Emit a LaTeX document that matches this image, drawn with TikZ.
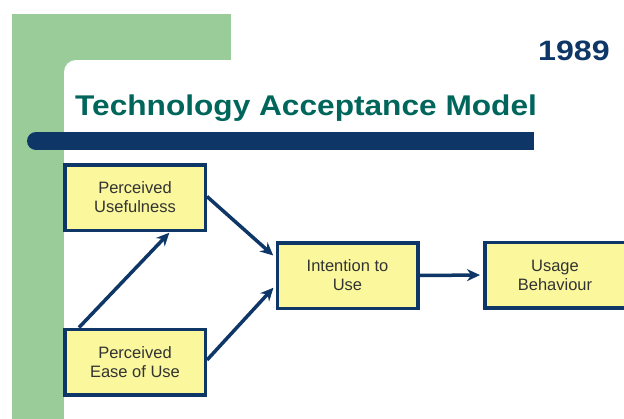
\documentclass[tikz,border=0pt]{standalone}
\usepackage{fontspec}
\setmainfont{Liberation Sans}
\usepackage{graphicx}
\usetikzlibrary{arrows.meta}

\definecolor{slidegreen}{HTML}{99CC99}
\definecolor{navy}{HTML}{0E3767}
\definecolor{titleteal}{HTML}{00665C}
\definecolor{boxyellow}{HTML}{FAF79C}
\definecolor{boxtext}{HTML}{333333}

\tikzset{
  tambox/.style={draw=navy, line width=3.5pt, fill=boxyellow, align=center,
    minimum width=140.5pt, minimum height=65.5pt, inner sep=0pt, text=boxtext,
    font=\fontsize{16.5}{19}\selectfont},
  link/.style={->, draw=navy, line width=3.5pt, shorten >=3pt}
}

\begin{document}
\begin{tikzpicture}[x=1pt, y=-1pt, >={Stealth[length=13pt,width=12pt]}]
\useasboundingbox (0,0) rectangle (624,418);
\clip (0,0) rectangle (624,418);
% slide background: green corner block and white panel
\fill[slidegreen] (12,14) rectangle (231,430);
\fill[white, rounded corners=12pt] (64,60) rectangle (680,470);
% header bar with rounded left end
\fill[navy] (36,132) rectangle (534,150);
\fill[navy] (36,141) circle (9pt);
% titles
\node[anchor=base west, inner sep=0pt, text=titleteal,
  font=\fontsize{28.5}{30}\selectfont\bfseries] (title) at (75,115)
  {\scalebox{1.11}[1]{Technology Acceptance Model}};
\node[anchor=base east, inner sep=0pt, text=navy,
  font=\fontsize{28}{30}\selectfont\bfseries] (year) at (610,60)
  {\scalebox{1.15}[1]{1989}};
% model constructs
\node[tambox] (pu) at (135,197.5) {Perceived\\Usefulness};
\node[tambox] (peou) at (135,362) {Perceived\\Ease of Use};
\node[tambox] (itu) at (347.5,275.5) {Intention to\\Use};
\node[tambox] (ub) at (555,275) {Usage\\Behaviour};
% paths between constructs
\draw[link] ([yshift=1pt]pu.east) -- ([yshift=18pt]itu.west);
\draw[link] ([yshift=2pt]peou.east) -- ([yshift=-10pt]itu.west);
\draw[link, shorten >=1pt] ([xshift=-56pt]peou.north) -- ([xshift=35pt]pu.south);
\draw[link] (itu.east) -- (ub.west);
\end{tikzpicture}
\end{document}
